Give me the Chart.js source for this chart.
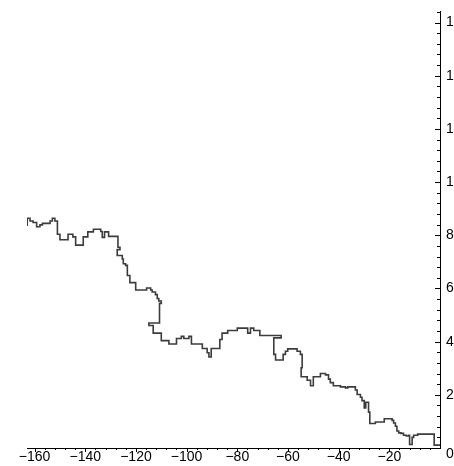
<!DOCTYPE html>
<html>
<head>
<meta charset="utf-8">
<script src="https://cdn.jsdelivr.net/npm/chart.js@4"></script>
<style>
  html, body { margin: 0; padding: 0; background: #fff; overflow: hidden; }
  #wrap { width: 454px; height: 466px; position: relative; }
</style>
</head>
<body>
<div id="wrap"><canvas id="walkChart"></canvas></div>
<script>
// corners of the walk, in drawing order
const walkX = [
  -162.9, -162.9, -161.8, -161.8, -160.6, -160.6, -159.2, -159.2, -157.9, -157.9,
  -156.9, -156.9, -153.9, -153.9, -153.0, -153.0, -152.0, -152.0, -151.0, -151.0,
  -150.0, -150.0, -146.8, -146.8, -144.9, -144.9, -143.8, -143.8, -140.8, -140.8,
  -139.0, -139.0, -136.8, -136.8, -133.9, -133.9, -133.3, -133.3, -132.4, -132.4,
  -130.8, -130.8, -127.1, -127.1, -126.3, -126.3, -127.4, -127.4, -125.4, -125.4,
  -125.0, -125.0, -124.1, -124.1, -123.4, -123.4, -122.4, -122.4, -120.1, -120.1,
  -115.8, -115.8, -114.2, -114.2, -113.6, -113.6, -112.3, -112.3, -111.6, -111.6,
  -111.0, -111.0, -110.0, -110.0, -110.7, -110.7, -114.9, -114.9, -113.2, -113.2,
  -110.0, -110.0, -107.0, -107.0, -104.0, -104.0, -102.1, -102.1, -101.1, -101.1,
  -99.1, -99.1, -98.1, -98.1, -93.8, -93.8, -91.9, -91.9, -91.2, -91.2,
  -90.3, -90.3, -86.9, -86.9, -86.0, -86.0, -83.8, -83.8, -80.0, -80.0,
  -75.9, -75.9, -74.8, -74.8, -73.5, -73.5, -71.1, -71.1, -62.7, -62.7,
  -65.6, -65.6, -64.9, -64.9, -61.9, -61.9, -61.0, -61.0, -60.1, -60.1,
  -56.4, -56.4, -55.1, -55.1, -54.4, -54.4, -54.8, -54.8, -52.4, -52.4,
  -51.1, -51.1, -50.0, -50.0, -47.2, -47.2, -45.2, -45.2, -44.0, -44.0,
  -43.3, -43.3, -42.1, -42.1, -39.3, -39.3, -37.3, -37.3, -36.4, -36.4,
  -33.4, -33.4, -32.7, -32.7, -31.4, -31.4, -30.8, -30.8, -29.9, -29.9,
  -29.3, -29.3, -28.2, -28.2, -27.7, -27.7, -25.5, -25.5, -22.0, -22.0,
  -18.9, -18.9, -18.3, -18.3, -17.6, -17.6, -17.0, -17.0, -16.3, -16.3,
  -15.4, -15.4, -14.4, -14.4, -13.3, -13.3, -12.4, -12.4, -12.0, -12.0,
  -11.0, -11.0, -10.4, -10.4, -8.8, -8.8, -2.3, -2.3, 0
];
const walkY = [
  8.35, 8.64, 8.64, 8.54, 8.54, 8.48, 8.48, 8.32, 8.32, 8.39,
  8.39, 8.45, 8.45, 8.54, 8.54, 8.64, 8.64, 8.54, 8.54, 8.04,
  8.04, 7.83, 7.83, 8.04, 8.04, 7.94, 7.94, 7.63, 7.63, 7.94,
  7.94, 8.13, 8.13, 8.23, 8.23, 8.14, 8.14, 7.92, 7.92, 8.13,
  8.13, 7.96, 7.96, 7.55, 7.55, 7.46, 7.46, 7.24, 7.24, 7.11,
  7.11, 6.93, 6.93, 6.87, 6.87, 6.49, 6.49, 6.22, 6.22, 5.94,
  5.94, 6.02, 6.02, 5.94, 5.94, 5.87, 5.87, 5.77, 5.77, 5.62,
  5.62, 5.53, 5.53, 5.44, 5.44, 4.70, 4.70, 4.61, 4.61, 4.32,
  4.32, 4.04, 4.04, 3.91, 3.91, 4.12, 4.12, 4.20, 4.20, 4.12,
  4.12, 4.20, 4.20, 3.91, 3.91, 3.74, 3.74, 3.58, 3.58, 3.42,
  3.42, 3.74, 3.74, 4.08, 4.08, 4.32, 4.32, 4.42, 4.42, 4.51,
  4.51, 4.32, 4.32, 4.51, 4.51, 4.42, 4.42, 4.23, 4.23, 4.14,
  4.14, 3.52, 3.52, 3.31, 3.31, 3.52, 3.52, 3.64, 3.64, 3.73,
  3.73, 3.64, 3.64, 3.52, 3.52, 3.02, 3.02, 2.68, 2.68, 2.55,
  2.55, 2.34, 2.34, 2.68, 2.68, 2.80, 2.80, 2.75, 2.75, 2.59,
  2.59, 2.46, 2.46, 2.34, 2.34, 2.30, 2.30, 2.26, 2.26, 2.30,
  2.30, 2.18, 2.18, 2.01, 2.01, 1.91, 1.91, 1.78, 1.78, 1.51,
  1.51, 1.72, 1.72, 1.35, 1.35, 0.92, 0.92, 0.98, 0.98, 1.10,
  1.10, 1.04, 1.04, 0.94, 0.94, 0.82, 0.82, 0.64, 0.64, 0.57,
  0.57, 0.55, 0.55, 0.48, 0.48, 0.45, 0.45, 0.48, 0.48, 0.13,
  0.13, 0.40, 0.40, 0.48, 0.48, 0.52, 0.52, 0.11, 0.11
];

// axis ranges and ticks
const xMin = -163, xMax = 0, xStep = 4;
const yMin = 0, yMax = 16.4, yStep = 0.4;
const xLabels = [-160, -140, -120, -100, -80, -60, -40, -20];
const yLabels = [0, 2, 4, 6, 8, 10, 12, 14, 16];

const near = (list, v) => list.some(l => Math.abs(l - v) < 1e-6);
const fmt = v => (v < 0 ? '\u2212' + Math.abs(v) : String(v));

// short tick marks: x ticks hang below the axis, y ticks point inward
const tickMarks = {
  id: 'tickMarks',
  afterDraw(chart) {
    const ctx = chart.ctx;
    const xs = chart.scales.x, ys = chart.scales.y;
    const area = chart.chartArea;
    ctx.save();
    ctx.strokeStyle = '#000';
    ctx.lineWidth = 1;
    ctx.beginPath();
    xs.ticks.forEach(t => {
      if (Math.abs(t.value) < 1e-6) return;
      const px = Math.round(xs.getPixelForValue(t.value)) + 0.5;
      const len = near(xLabels, t.value) ? 4 : 2;
      ctx.moveTo(px, area.bottom);
      ctx.lineTo(px, area.bottom + len);
    });
    ys.ticks.forEach(t => {
      if (Math.abs(t.value) < 1e-6) return;
      const py = Math.round(ys.getPixelForValue(t.value)) + 0.5;
      const len = near(yLabels, t.value) ? 5 : 3;
      ctx.moveTo(area.right - len, py);
      ctx.lineTo(area.right, py);
    });
    ctx.stroke();
    ctx.restore();
  }
};

const points = walkX.map((x, i) => ({ x: x, y: walkY[i] }));

new Chart(document.getElementById('walkChart'), {
  type: 'scatter',
  data: {
    datasets: [{
      data: points,
      showLine: true,
      borderColor: '#3c3c3c',
      borderWidth: 1.6,
      pointRadius: 0,
      tension: 0,
      fill: false
    }]
  },
  options: {
    responsive: true,
    maintainAspectRatio: false,
    animation: false,
    layout: { padding: { left: 27, top: 7, right: 0, bottom: 0 } },
    plugins: { legend: { display: false }, tooltip: { enabled: false } },
    scales: {
      x: {
        type: 'linear',
        position: 'bottom',
        min: xMin,
        max: xMax,
        grid: { display: false, drawTicks: false },
        border: { display: true, color: '#000', width: 1 },
        afterFit(scale) { scale.height = 18; },
        ticks: {
          stepSize: xStep,
          includeBounds: false,
          autoSkip: false,
          maxRotation: 0,
          padding: 1,
          color: '#000',
          font: { family: 'Liberation Sans', size: 14 },
          callback: v => (near(xLabels, v) ? fmt(v) : '')
        }
      },
      y: {
        type: 'linear',
        position: 'right',
        min: yMin,
        max: yMax,
        grid: { display: false, drawTicks: false },
        border: { display: true, color: '#000', width: 1 },
        afterFit(scale) { scale.width = 14; },
        ticks: {
          stepSize: yStep,
          includeBounds: false,
          autoSkip: false,
          padding: 6,
          color: '#000',
          font: { family: 'Liberation Sans', size: 14, lineHeight: 0.85 },
          // the zero label sits a little below its tick, clear of the x axis
          callback: v => {
            if (!near(yLabels, v)) return '';
            const r = Math.round(v);
            return r === 0 ? ['', '0'] : String(r);
          }
        }
      }
    }
  },
  plugins: [tickMarks]
});
</script>
</body>
</html>
